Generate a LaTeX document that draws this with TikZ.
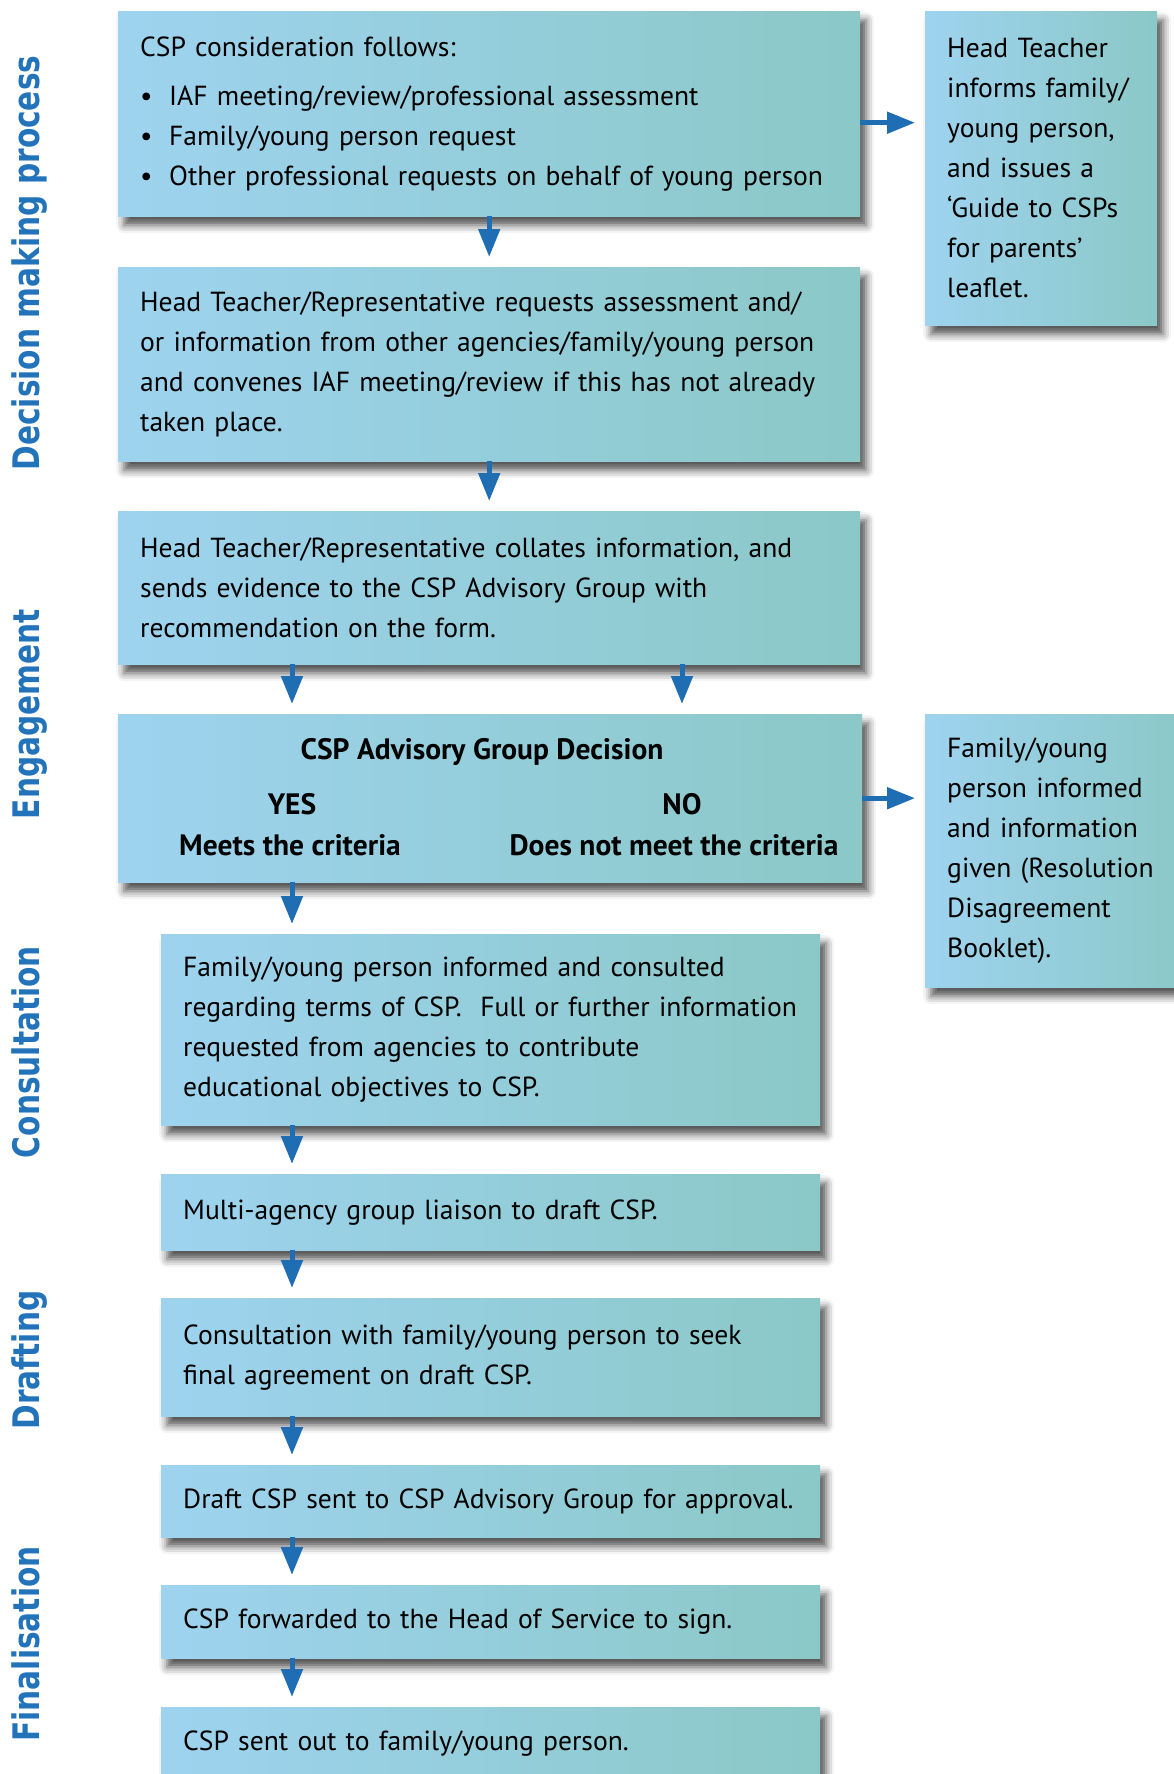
\documentclass[tikz,border=0pt]{standalone}
\usepackage{fontspec}
\setmainfont{PT Sans}
\newfontfamily\labelfont{DejaVu Sans}
\usetikzlibrary{arrows.meta,shadows.blur}
\definecolor{boxL}{HTML}{9ED3EF}
\definecolor{boxR}{HTML}{8BC8C7}
\definecolor{arrowblue}{HTML}{1F6DB3}
\definecolor{labelblue}{HTML}{2273BA}
\newcommand{\bul}{\makebox[29pt][l]{\textbullet}}
\newcommand{\sidetext}[1]{\scalebox{0.81}[1]{#1}}
\tikzset{
  stagebox/.style={rectangle, anchor=north west, inner xsep=22pt, inner ysep=0pt,
    left color=boxL, right color=boxR, align=left,
    blur shadow={shadow xshift=6pt, shadow yshift=-9pt, shadow blur radius=8pt, shadow opacity=68},
    font=\fontsize{27.6}{40}\selectfont},
  boxtext/.style={anchor=base, inner sep=0pt, font=\fontsize{29.5}{40}\selectfont\bfseries},
  flowarrow/.style={draw=arrowblue, line width=5pt, -{Triangle[width=21pt,length=28pt]}, shorten >=10pt},
  sidelabel/.style={rotate=90, anchor=base, inner sep=0pt, text=labelblue,
    font=\labelfont\bfseries\fontsize{36.6}{40}\selectfont}
}
\begin{document}
\begin{tikzpicture}[x=1pt,y=-1pt]
\useasboundingbox (0,0) rectangle (1174,1774);
% side labels
\node[sidelabel] (lab1) at (39,263) {\sidetext{Decision making process}};
\node[sidelabel] (lab2) at (39,714) {\sidetext{Engagement}};
\node[sidelabel] (lab3) at (39,1052) {\sidetext{Consultation}};
\node[sidelabel] (lab4) at (39,1360) {\sidetext{Drafting}};
\node[sidelabel] (lab5) at (39,1644) {\sidetext{Finalisation}};
% boxes
\node[stagebox, minimum height=205pt, text width=698pt] (b1) at (118,11)
  {CSP consideration follows:\\[9pt]
   \bul IAF meeting/review/professional assessment\\
   \bul Family/young person request\\
   \bul Other professional requests on behalf of young person};
\node[stagebox, minimum height=314pt, text width=188pt] (rb1) at (925,11)
  {Head Teacher\\ informs family/\\ young person,\\ and issues a\\ ‘Guide to CSPs\\ for parents’\\ leaflet.};
\node[stagebox, minimum height=194pt, text width=698pt] (b2) at (118,267)
  {Head Teacher/Representative requests assessment and/\\
   or information from other agencies/family/young person\\
   and convenes IAF meeting/review if this has not already\\
   taken place.};
\node[stagebox, minimum height=153pt, text width=698pt] (b3) at (118,511)
  {Head Teacher/Representative collates information, and\\
   sends evidence to the CSP Advisory Group with\\
   recommendation on the form.};
\node[stagebox, minimum height=168pt, text width=700pt] (b4) at (118,714) {};
\node[boxtext] (title) at (482,759) {CSP Advisory Group Decision};
\node[boxtext] (yes) at (292,814) {YES};
\node[boxtext] (no) at (682,814) {NO};
\node[boxtext] (meets) at (290,855) {Meets the criteria};
\node[boxtext] (notmeets) at (674,855) {Does not meet the criteria};
\node[stagebox, minimum height=273pt, text width=221pt] (rb2) at (925,714)
  {Family/young\\ person informed\\ and information\\ given (Resolution\\ Disagreement\\ Booklet).};
\node[stagebox, minimum height=191pt, text width=615pt] (b5) at (161,934)
  {Family/young person informed and consulted\\
   regarding terms of CSP.\ \ Full or further information\\
   requested from agencies to contribute\\
   educational objectives to CSP.};
\node[stagebox, minimum height=76pt, text width=615pt] (b6) at (161,1174)
  {Multi-agency group liaison to draft CSP.};
\node[stagebox, minimum height=118pt, text width=615pt] (b7) at (161,1298)
  {Consultation with family/young person to seek\\
   final agreement on draft CSP.};
\node[stagebox, minimum height=72pt, text width=615pt] (b8) at (161,1465)
  {Draft CSP sent to CSP Advisory Group for approval.};
\node[stagebox, minimum height=73pt, text width=615pt] (b9) at (161,1585)
  {CSP forwarded to the Head of Service to sign.};
\node[stagebox, minimum height=73pt, text width=615pt] (b10) at (161,1707)
  {CSP sent out to family/young person.};
% arrows
\draw[flowarrow] (b1.south) -- (b2.north);
\draw[flowarrow] (b2.south) -- (b3.north);
\draw[flowarrow] ([yshift=-9pt]b1.east) -- ([yshift=-9pt]b1.east -| rb1.west);
\draw[flowarrow] (b3.south -| yes) -- (b4.north -| yes);
\draw[flowarrow] (b3.south -| no) -- (b4.north -| no);
\draw[flowarrow] (b4.east) -- (b4.east -| rb2.west);
\draw[flowarrow] (b4.south -| yes) -- (b5.north -| yes);
\draw[flowarrow] (b5.south -| yes) -- (b6.north -| yes);
\draw[flowarrow] (b6.south -| yes) -- (b7.north -| yes);
\draw[flowarrow] (b7.south -| yes) -- (b8.north -| yes);
\draw[flowarrow] (b8.south -| yes) -- (b9.north -| yes);
\draw[flowarrow] (b9.south -| yes) -- (b10.north -| yes);
\end{tikzpicture}
\end{document}
